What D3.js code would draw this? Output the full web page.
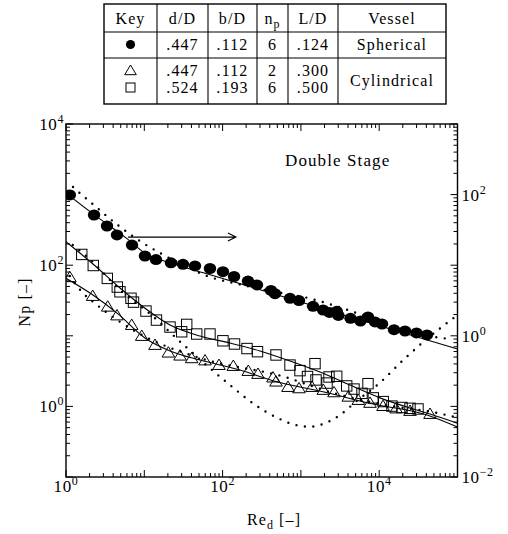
<!DOCTYPE html>
<html>
<head>
<meta charset="utf-8">
<script src="https://cdn.jsdelivr.net/npm/d3@7"></script>
<style>
  html, body { margin: 0; padding: 0; background: #fff; }
  svg text { font-family: "Liberation Serif", "Times New Roman", serif; fill: #000; }
</style>
</head>
<body>
<svg id="chart" width="508" height="534"></svg>
<script>
// ── Data: [Re_d, Np] ──
// spherical vessel (read on the right-hand axis, see arrow)
const spherePts = [
  [1.12, 99], [2.28, 51.4], [3.34, 35.9], [4.48, 26.8], [6.97, 19.3], [10.2, 13.5],
  [14.1, 12.0], [21.9, 10.8], [31.2, 10.3], [44.4, 9.75], [69, 8.98], [101, 8.09],
  [140, 6.92], [211, 5.97], [275, 5.25], [415, 4.39], [467, 3.95], [726, 3.40],
  [946, 3.16], [1430, 2.62], [1920, 2.32], [2320, 2.14], [2870, 2.22], [3010, 1.94],
  [4300, 1.77], [5770, 1.62], [7190, 1.85], [8840, 1.57], [10860, 1.47], [15450, 1.22],
  [21370, 1.17], [29940, 1.10], [40770, 1.03]
];
const sphereFit = [
  [1, 105], [2.28, 52], [5.96, 24.0], [10.7, 14.3], [21.3, 10.8], [56.7, 7.83],
  [366, 4.22], [5690, 1.67], [1e5, 0.65]
];
const sphereModel = [
  [1.23, 128], [1.55, 102], [2.42, 66.7], [4.75, 35.9], [9.62, 20.6], [15.9, 14.9],
  [33.1, 9.75], [63.2, 7.03], [157, 5.42], [403, 4.32], [1233, 3.43], [4000, 2.32],
  [14560, 1.38], [51600, 0.96], [82600, 0.90]
];

// cylindrical vessel, n_p = 6 (squares), left axis
const squarePts = [
  [1.59, 142], [2.23, 99], [3.37, 65], [4.52, 49], [4.89, 42], [6.76, 34], [7.28, 30],
  [10.5, 22.4], [14.3, 16.7], [21.3, 13.3], [30, 11.4], [34.8, 14.5], [46.7, 10.6],
  [69, 10.6], [101, 8.5], [142, 7.65], [205, 6.6], [279, 5.96], [481, 5.35], [726, 3.85],
  [974, 3.21], [1514, 4.03], [1214, 2.65], [1559, 2.37], [2285, 2.61], [2866, 2.67],
  [2155, 2.14], [3845, 1.95], [4765, 1.76], [6030, 1.53], [7194, 2.10], [8410, 1.32],
  [11270, 1.17], [14560, 1.01], [19550, 0.965], [24730, 0.94], [31300, 0.92]
];
const squareFit = [
  [1, 215], [2.21, 104], [4.89, 47.5], [10.5, 24], [21.3, 14.2], [51.5, 9.93], [124, 7.9],
  [300, 6.1], [726, 4.4], [1754, 3.07], [4240, 2.01], [10230, 1.32], [24730, 0.95],
  [44560, 0.78], [1e5, 0.577]
];
const squareModel = [
  [1.22, 193], [1.98, 124], [4.89, 44.6], [11.8, 20.5], [30.9, 7.65], [124, 2.01],
  [252, 1.08], [514, 0.678], [800, 0.557], [1280, 0.515], [2032, 0.577], [3157, 0.755],
  [5055, 1.17], [10230, 2.17], [20730, 4.65], [42000, 9.31], [92900, 18.5]
];

// cylindrical vessel, n_p = 2 (triangles), left axis
const trianglePts = [
  [1.12, 67.5], [2.19, 36.6], [3.41, 25.8], [4.48, 19.4], [6.9, 14.2], [9.27, 9.93],
  [13.7, 7.41], [20.3, 5.77], [28.6, 5.23], [40.3, 4.80], [59.6, 4.47], [89.9, 3.85],
  [137, 3.73], [213, 3.17], [283, 2.88], [440, 2.56], [481, 2.24], [684, 1.88], [946, 1.80],
  [1386, 1.88], [1932, 1.71], [2648, 1.58], [4030, 1.37], [5410, 1.23], [7630, 1.12],
  [11190, 1.01], [16400, 0.934], [24730, 0.861], [44560, 0.78]
];
const triangleFit = [
  [1, 65.2], [2.21, 37.8], [4.61, 20.4], [10.2, 9.31], [21.3, 6.1], [51.5, 4.54], [167, 3.28],
  [440, 2.31], [1916, 1.61], [8340, 1.08], [40770, 0.755], [1e5, 0.51]
];
const triangleModel = [
  [1.12, 70.3], [1.6, 41.7], [2.49, 27.3], [8.81, 10.6], [51.5, 4.85], [627, 2.61],
  [2354, 1.60], [10230, 1.08], [54700, 0.807], [92900, 0.708]
];

// tick labels (exponents of ten)
const xLabelExp = [0, 2, 4];
const yLeftLabelExp = [4, 2, 0];
const yRightLabelExp = [2, 0, -2];

// table
const tableHead = ['Key', 'd/D', 'b/D', 'n', 'L/D', 'Vessel'];
const tableRows = [
  { key: 'circle', vals: ['.447', '.112', '6', '.124'] },
  { key: 'triangle', vals: ['.447', '.112', '2', '.300'] },
  { key: 'square', vals: ['.524', '.193', '6', '.500'] }
];
const vesselNames = ['Spherical', 'Cylindrical'];

// ── Layout ──
const X0 = 66, X1 = 457.5, Y0 = 124, Y1 = 477;
const FS = 16;          // body text size
const LS = 1.1;         // letter spacing, widens the Times face toward Century
const svg = d3.select('#chart');

const x = d3.scaleLog().domain([1, 1e5]).range([X0, X1]);
const yL = d3.scaleLog().domain([0.1, 1e4]).range([Y1, Y0]);
const yR = d3.scaleLog().domain([0.01, 1e3]).range([Y1, Y0]);

const isMajor = (v) => Math.abs(Math.log10(v) - Math.round(Math.log10(v))) < 1e-6;
const tri = 'M0,-6L6.3,4.4L-6.3,4.4Z';

svg.append('defs').append('clipPath').attr('id', 'plot')
  .append('rect').attr('x', X0).attr('y', Y0).attr('width', X1 - X0).attr('height', Y1 - Y0);

// ── Table ──
const colX = [104, 157, 208, 257, 288, 338, 446];
const rowY = [4, 32, 58, 104];
const tbl = svg.append('g').attr('class', 'table');
tbl.append('rect').attr('x', colX[0]).attr('y', rowY[0])
  .attr('width', colX[6] - colX[0]).attr('height', rowY[3] - rowY[0])
  .attr('fill', 'none').attr('stroke', '#000').attr('stroke-width', 1.4);
colX.slice(1, 6).forEach((cx) => {
  tbl.append('line').attr('x1', cx).attr('x2', cx).attr('y1', rowY[0]).attr('y2', rowY[3])
    .attr('stroke', '#000').attr('stroke-width', 1.1);
});
rowY.slice(1, 3).forEach((ry) => {
  tbl.append('line').attr('x1', colX[0]).attr('x2', colX[6]).attr('y1', ry).attr('y2', ry)
    .attr('stroke', '#000').attr('stroke-width', 1.1);
});
const colMid = (i) => (colX[i] + colX[i + 1]) / 2;
const tText = (px, py, s) => tbl.append('text').attr('x', px).attr('y', py)
  .attr('text-anchor', 'middle').attr('font-size', FS).attr('letter-spacing', LS).text(s);

tableHead.forEach((h, i) => {
  const t = tText(colMid(i), 24, h);
  if (h === 'n') t.append('tspan').attr('dy', 4).attr('font-size', 12).text('p');
});
const rowBase = [50, 76, 93];
tableRows.forEach((r, j) => {
  const cy = rowBase[j] - 5.5;
  if (r.key === 'circle') {
    tbl.append('circle').attr('cx', colMid(0)).attr('cy', cy).attr('r', 4.6).attr('fill', '#000');
  } else if (r.key === 'triangle') {
    tbl.append('path').attr('d', 'M0,-5.5L5.8,4.2L-5.8,4.2Z').attr('transform', `translate(${colMid(0)},${cy})`)
      .attr('fill', 'none').attr('stroke', '#000').attr('stroke-width', 1);
  } else {
    tbl.append('rect').attr('x', colMid(0) - 4.5).attr('y', cy - 4.5).attr('width', 9).attr('height', 9)
      .attr('fill', 'none').attr('stroke', '#000').attr('stroke-width', 1);
  }
  r.vals.forEach((v, i) => tText(colMid(i + 1), rowBase[j], v));
});
tText(colMid(5), 50, vesselNames[0]);
tText(colMid(5), 86, vesselNames[1]);

// ── Frame and ticks ──
svg.append('rect').attr('x', X0).attr('y', Y0).attr('width', X1 - X0).attr('height', Y1 - Y0)
  .attr('fill', 'none').attr('stroke', '#000').attr('stroke-width', 1.4);

const tk = svg.append('g').attr('stroke', '#000').attr('stroke-width', 1);
x.ticks().forEach((v) => {
  const len = isMajor(v) ? 7 : 4;
  tk.append('line').attr('x1', x(v)).attr('x2', x(v)).attr('y1', Y1).attr('y2', Y1 - len);
  tk.append('line').attr('x1', x(v)).attr('x2', x(v)).attr('y1', Y0).attr('y2', Y0 + len);
});
yL.ticks().forEach((v) => {
  const len = isMajor(v) ? 7 : 4;
  tk.append('line').attr('x1', X0).attr('x2', X0 + len).attr('y1', yL(v)).attr('y2', yL(v));
});
yR.ticks().forEach((v) => {
  const len = isMajor(v) ? 7 : 4;
  tk.append('line').attr('x1', X1).attr('x2', X1 - len).attr('y1', yR(v)).attr('y2', yR(v));
});

function powLabel(px, py, exp, anchor) {
  const t = svg.append('text').attr('x', px).attr('y', py).attr('text-anchor', anchor)
    .attr('font-size', 17).attr('letter-spacing', 0.6).text('10');
  t.append('tspan').attr('dy', -7).attr('font-size', 12)
    .text(exp < 0 ? '\u2212' + (-exp) : String(exp));
}
xLabelExp.forEach((e) => powLabel(x(10 ** e), 492, e, 'middle'));
yLeftLabelExp.forEach((e) => powLabel(X0 - 2, yL(10 ** e) + 6, e, 'end'));
yRightLabelExp.forEach((e) => powLabel(X1 + 4, yR(10 ** e) + 6, e, 'start'));

// axis titles
const xt = svg.append('text').attr('x', 274).attr('y', 525).attr('text-anchor', 'middle')
  .attr('font-size', FS).attr('letter-spacing', LS).text('Re');
xt.append('tspan').attr('dy', 4).attr('font-size', 12).text('d');
xt.append('tspan').attr('dy', -4).attr('font-size', FS).text(' [\u2013]');
svg.append('text').attr('transform', 'translate(30,302) rotate(-90)').attr('text-anchor', 'middle')
  .attr('font-size', FS).attr('letter-spacing', LS).text('Np [\u2013]');

// ── Curves ──
const plot = svg.append('g').attr('clip-path', 'url(#plot)');
const lineL = d3.line().x((d) => x(d[0])).y((d) => yL(d[1])).curve(d3.curveMonotoneX);
const lineR = d3.line().x((d) => x(d[0])).y((d) => yR(d[1])).curve(d3.curveMonotoneX);

[[sphereFit, lineR], [squareFit, lineL], [triangleFit, lineL]].forEach(([data, gen]) => {
  plot.append('path').attr('d', gen(data)).attr('fill', 'none')
    .attr('stroke', '#000').attr('stroke-width', 1.1);
});
[[sphereModel, lineR], [squareModel, lineL], [triangleModel, lineL]].forEach(([data, gen]) => {
  plot.append('path').attr('d', gen(data)).attr('fill', 'none')
    .attr('stroke', '#000').attr('stroke-width', 2.4).attr('stroke-linecap', 'round')
    .attr('stroke-dasharray', '0,8.5');
});

// ── Markers ──
plot.selectAll('.sq').data(squarePts).join('rect').attr('class', 'sq')
  .attr('x', (d) => x(d[0]) - 5.2).attr('y', (d) => yL(d[1]) - 5.2)
  .attr('width', 10.4).attr('height', 10.4)
  .attr('fill', 'none').attr('stroke', '#000').attr('stroke-width', 1);
plot.selectAll('.tr').data(trianglePts).join('path').attr('class', 'tr')
  .attr('d', tri).attr('transform', (d) => `translate(${x(d[0])},${yL(d[1])})`)
  .attr('fill', 'none').attr('stroke', '#000').attr('stroke-width', 1);
plot.selectAll('.ci').data(spherePts).join('ellipse').attr('class', 'ci')
  .attr('cx', (d) => x(d[0])).attr('cy', (d) => yR(d[1]))
  .attr('rx', 6.2).attr('ry', 5.5).attr('fill', '#000');

// ── Annotations ──
const ax0 = x(6.2), ax1 = x(148), ay = yR(25);
svg.append('path')
  .attr('d', `M${ax0},${ay}H${ax1}M${ax1 - 8},${ay - 4}L${ax1},${ay}L${ax1 - 8},${ay + 4}`)
  .attr('fill', 'none').attr('stroke', '#000').attr('stroke-width', 1.1);
svg.append('text').attr('x', x(627)).attr('y', yL(2540)).attr('font-size', 17)
  .attr('letter-spacing', 1.1).text('Double Stage');
</script>
</body>
</html>
